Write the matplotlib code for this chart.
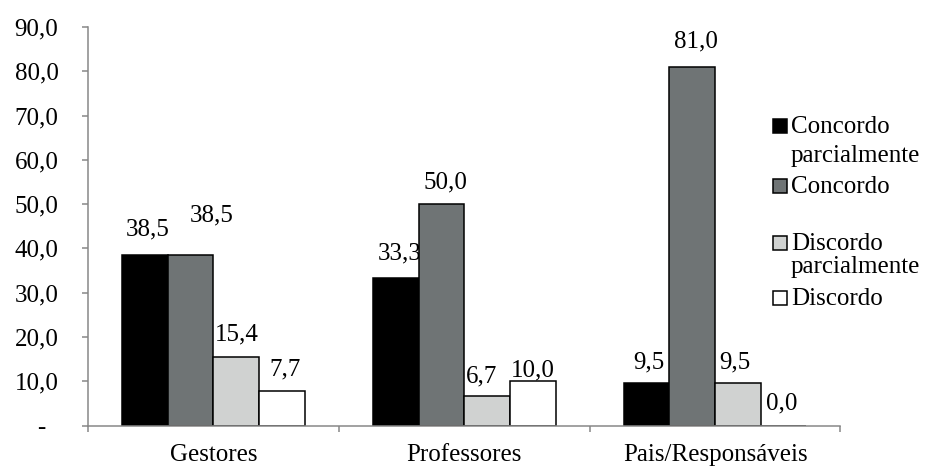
import matplotlib

matplotlib.use("Agg")
import matplotlib.pyplot as plt
import numpy as np
from matplotlib.patches import Rectangle

plt.rcParams["font.family"] = ["Liberation Serif", "DejaVu Serif"]

# ── Data ──────────────────────────────────────────────────
GROUPS = ["Gestores", "Professores", "Pais/Responsáveis"]
SERIES = ["Concordo parcialmente", "Concordo", "Discordo parcialmente", "Discordo"]
LEGEND_LINES = [["Concordo", "parcialmente"], ["Concordo"], ["Discordo", "parcialmente"], ["Discordo"]]
VALUES = [
    [38.5, 33.3, 9.5],   # Concordo parcialmente
    [38.5, 50.0, 81.0],  # Concordo
    [15.4, 6.7, 9.5],    # Discordo parcialmente
    [7.7, 10.0, 0.0],    # Discordo
]
Y_TICKS = [0, 10, 20, 30, 40, 50, 60, 70, 80, 90]

COLORS = ["#000000", "#6F7475", "#D0D2D1", "#FFFFFF"]
AXIS_GREY = "#878787"
FS = 18

# label nudges in pixels (dx, dy above bar top), series x group
LABEL_OFFSETS = [
    [(3, 26), (4, 25), (2, 21)],
    [(21, 40), (4, 22), (4, 25)],
    [(1, 23), (-6, 19), (-3, 21)],
    [(3, 22), (0, 11), (-2, 22)],
]

W, H = 929, 469
fig = plt.figure(figsize=(W / 100, H / 100), dpi=100)
ax = fig.add_axes([88 / W, 1 - 425.5 / H, (840.5 - 88) / W, (425.5 - 27) / H])

x = np.arange(len(GROUPS))
width = 0.182
for i, (vals, color) in enumerate(zip(VALUES, COLORS)):
    pos = x + (i - 1.5) * width
    ax.bar(pos, vals, width, color=color, edgecolor="black", linewidth=1.1, zorder=2)
    for j, (p, v) in enumerate(zip(pos, vals)):
        dx, dy = LABEL_OFFSETS[i][j]
        ax.annotate(
            f"{v:.1f}".replace(".", ","),
            (p, v),
            xytext=(dx * 0.72, dy * 0.72),
            textcoords="offset points",
            ha="center",
            va="center",
            fontsize=FS,
            zorder=1,
        )

ax.set_xlim(-0.5, len(GROUPS) - 0.5)
ax.set_ylim(0, 90)
ax.set_yticks(Y_TICKS)
ax.set_yticklabels(["-  "] + [f"{t:.1f}".replace(".", ",") for t in Y_TICKS[1:]])
ax.set_xticks(x)
ax.set_xticklabels(GROUPS)
ax.set_xticks(np.arange(len(GROUPS) + 1) - 0.5, minor=True)

for side in ("top", "right"):
    ax.spines[side].set_visible(False)
for side in ("left", "bottom"):
    ax.spines[side].set_color(AXIS_GREY)
    ax.spines[side].set_linewidth(1.1)
    ax.spines[side].set_zorder(3)

ax.tick_params(axis="y", direction="out", length=4.3, width=1.1, color=AXIS_GREY,
               labelsize=FS, pad=17)
ax.tick_params(axis="x", which="major", length=0, labelsize=FS, pad=13)
ax.tick_params(axis="x", which="minor", direction="out", length=4, width=1.1,
               color=AXIS_GREY)

# legend drawn by hand: marker lines up with the first line of each label
legend_rows = [(126, [133, 162]), (186, [193]), (243, [250, 273]), (298, [305])]
for color, lines, (yc, baselines) in zip(COLORS, LEGEND_LINES, legend_rows):
    s = 14
    fig.add_artist(Rectangle(((780 - s / 2) / W, 1 - (yc + s / 2) / H), s / W, s / H,
                             transform=fig.transFigure, facecolor=color,
                             edgecolor="black", linewidth=1.1))
    for text, yb in zip(lines, baselines):
        fig.text(791 / W, 1 - yb / H, text, fontsize=FS, va="baseline", ha="left")

fig.savefig("out.png", dpi=100)
